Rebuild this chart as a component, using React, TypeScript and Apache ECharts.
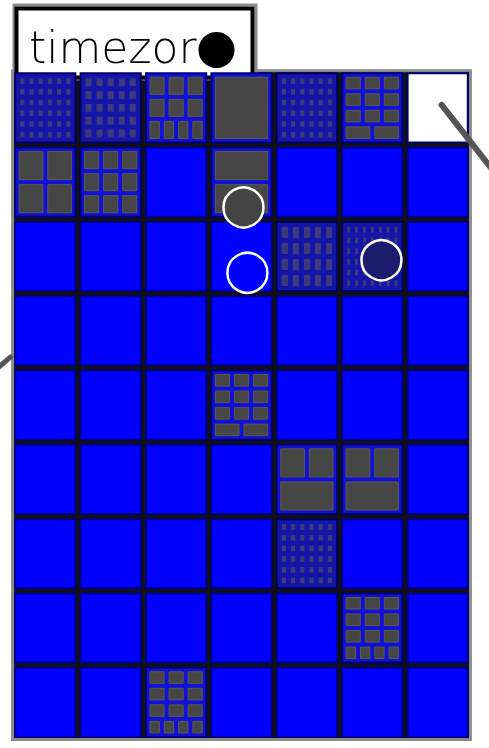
import React, { useEffect, useRef } from 'react';
import * as echarts from 'echarts';

const columns = ['c1', 'c2', 'c3', 'c4', 'c5', 'c6', 'c7'];
const rowNames = ['r1', 'r2', 'r3', 'r4', 'r5', 'r6', 'r7', 'r8', 'r9'];

// [column, row, blocks per sub-row]
const blockCells: [number, number, number[]][] = [
  [2, 0, [3, 3, 4]],
  [3, 0, [1]],
  [5, 0, [3, 3, 3, 2]],
  [0, 1, [2, 2]],
  [1, 1, [3, 3, 3]],
  [3, 1, [1, 1]],
  [3, 4, [3, 3, 3, 2]],
  [4, 5, [2, 1]],
  [5, 5, [2, 1]],
  [5, 7, [3, 3, 3, 4]],
  [2, 8, [3, 3, 3, 4]],
];
const fineCells: [number, number, number[]][] = [
  [0, 0, [6, 6, 6, 6, 6, 6]],
  [1, 0, [5, 5, 5, 5, 5]],
  [4, 0, [6, 6, 6, 6, 6, 6]],
  [4, 2, [5, 5, 5, 5]],
  [5, 2, [7, 7, 7, 7, 7, 7]],
  [4, 6, [6, 6, 6, 6, 6, 6]],
];
const emptyCells: [number, number][] = [[6, 0]];

const pointX = [3.53, 3.59, 5.64];
const pointY = [1.84, 2.72, 2.55];
const pointColors = ['#444444', '#0000ff', '#1c1c6e'];

// stroke segments: [x1, y1, x2, y2, width]
const strokes = [
  [6.56, 0.46, 7.6, 1.63, 6],
  [-0.3, 4.06, -0.03, 3.85, 5],
];

const legendText = 'timezor';

export default function App() {
  const ref = useRef<HTMLDivElement>(null);
  useEffect(() => {
    if (!ref.current) return;
    const chart = echarts.init(ref.current, null, { renderer: 'svg' });

    const lookup: Record<string, { kind: string; layout: number[] }> = {};
    blockCells.forEach(([c, r, l]) => (lookup[c + '_' + r] = { kind: 'block', layout: l }));
    fineCells.forEach(([c, r, l]) => (lookup[c + '_' + r] = { kind: 'fine', layout: l }));
    emptyCells.forEach(([c, r]) => (lookup[c + '_' + r] = { kind: 'empty', layout: [] }));

    const cellData: number[][] = [];
    rowNames.forEach((_, r) => columns.forEach((_, c) => cellData.push([c, r])));

    const blocks = (
      x: number, y: number, w: number, h: number, layout: number[],
      pad: number, gap: number, style: any
    ) => {
      const out: any[] = [];
      const n = layout.length;
      const rh = (h - 2 * pad - gap * (n - 1)) / n;
      layout.forEach((k, i) => {
        const bw = (w - 2 * pad - gap * (k - 1)) / k;
        for (let j = 0; j < k; j++) {
          out.push({
            type: 'rect',
            shape: { x: x + pad + j * (bw + gap), y: y + pad + i * (rh + gap), width: bw, height: rh },
            style,
          });
        }
      });
      return out;
    };

    const renderItem = (params: any, api: any) => {
      const c = api.value(0);
      const r = api.value(1);
      const ctr = api.coord([c, r]);
      const sz = api.size([1, 1]);
      const inset = 2.6;
      const x = ctr[0] - sz[0] / 2 + inset;
      const y = ctr[1] - sz[1] / 2 + inset;
      const w = sz[0] - 2 * inset;
      const h = sz[1] - 2 * inset;
      const info = lookup[c + '_' + r];
      const children: any[] = [];
      if (info && info.kind === 'empty') {
        children.push({ type: 'rect', shape: { x, y, width: w, height: h }, style: { fill: '#ffffff', stroke: '#000070', lineWidth: 2 } });
      } else if (info && info.kind === 'fine') {
        children.push({ type: 'rect', shape: { x, y, width: w, height: h }, style: { fill: '#1515a8', stroke: '#00006a', lineWidth: 2 } });
        children.push(...blocks(x, y, w, h, info.layout, 5, 5, { fill: '#6b6b4a', opacity: 0.45 }));
      } else if (info && info.kind === 'block') {
        children.push({ type: 'rect', shape: { x, y, width: w, height: h }, style: { fill: '#1010d8', stroke: '#00007a', lineWidth: 2 } });
        children.push(...blocks(x, y, w, h, info.layout, 4, 5, { fill: '#464646', stroke: '#5d5d3e', lineWidth: 1 }));
      } else {
        children.push({ type: 'rect', shape: { x, y, width: w, height: h }, style: { fill: '#0000ff', stroke: '#00008a', lineWidth: 2 } });
      }
      return { type: 'group', children };
    };

    const renderStroke = (params: any, api: any) => {
      const p1 = api.coord([api.value(0), api.value(1)]);
      const p2 = api.coord([api.value(2), api.value(3)]);
      return {
        type: 'line',
        shape: { x1: p1[0], y1: p1[1], x2: p2[0], y2: p2[1] },
        style: { stroke: '#555555', lineWidth: api.value(4), lineCap: 'round' },
      };
    };

    chart.setOption({
      animation: false,
      grid: {
        left: 12.6, right: 18.6, top: 70.7, bottom: 8.5,
        show: true, backgroundColor: '#111111', borderColor: '#8a8a8a', borderWidth: 3,
      },
      xAxis: [
        { type: 'category', data: columns, show: false },
        { type: 'value', min: 0, max: 7, show: false },
      ],
      yAxis: [
        { type: 'category', data: rowNames, inverse: true, show: false },
        { type: 'value', min: 0, max: 9, inverse: true, show: false },
      ],
      series: [
        {
          type: 'custom',
          coordinateSystem: 'cartesian2d',
          xAxisIndex: 0,
          yAxisIndex: 0,
          encode: { x: 0, y: 1 },
          renderItem,
          data: cellData,
          z: 2,
        },
        {
          type: 'scatter',
          xAxisIndex: 1,
          yAxisIndex: 1,
          symbolSize: 40,
          z: 5,
          data: pointX.map((v, i) => ({
            value: [v, pointY[i]],
            itemStyle: { color: pointColors[i], borderColor: '#ffffff', borderWidth: 2.5, opacity: 1 },
          })),
        },
        {
          type: 'custom',
          coordinateSystem: 'cartesian2d',
          xAxisIndex: 1,
          yAxisIndex: 1,
          clip: false,
          encode: { x: [0, 2], y: [1, 3] },
          renderItem: renderStroke,
          data: strokes,
          z: 6,
        },
      ],
      graphic: [
        {
          type: 'group',
          z: 100,
          children: [
            { type: 'rect', shape: { x: 14, y: 5, width: 242, height: 74 }, style: { fill: '#ffffff', stroke: '#8a8a8a', lineWidth: 3 } },
            { type: 'rect', shape: { x: 16.5, y: 8.5, width: 236, height: 69 }, style: { fill: '#ffffff', stroke: '#000000', lineWidth: 4 } },
            {
              type: 'text', x: 29, y: 47,
              style: { text: legendText, fill: '#000000', font: '200 44px "DejaVu Sans", sans-serif', textVerticalAlign: 'middle' },
            },
            { type: 'circle', shape: { cx: 216.5, cy: 50, r: 18 }, style: { fill: '#000000' } },
          ],
        },
      ],
    });
    return () => chart.dispose();
  }, []);
  return <div ref={ref} style={{ position: 'fixed', left: 0, top: 0, width: 489, height: 748 }} />;
}
